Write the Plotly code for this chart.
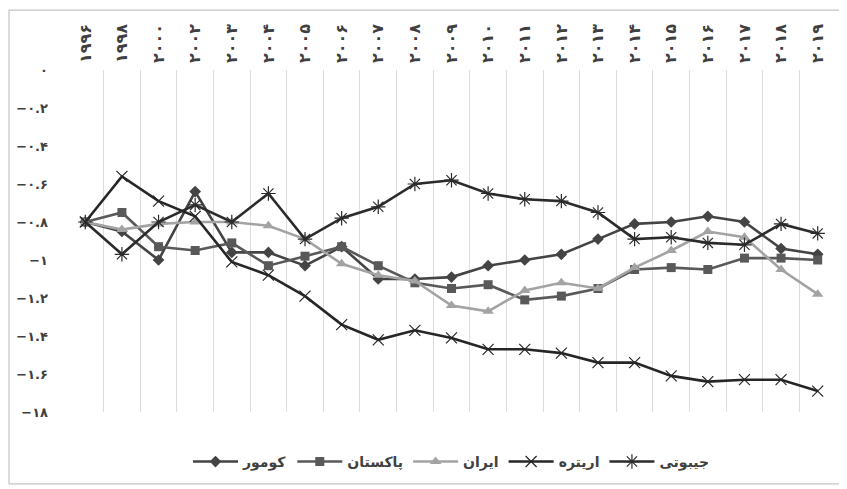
import plotly.graph_objects as go

years = ["۱۹۹۶", "۱۹۹۸", "۲۰۰۰", "۲۰۰۲", "۲۰۰۳", "۲۰۰۴", "۲۰۰۵", "۲۰۰۶", "۲۰۰۷", "۲۰۰۸",
         "۲۰۰۹", "۲۰۱۰", "۲۰۱۱", "۲۰۱۲", "۲۰۱۳", "۲۰۱۴", "۲۰۱۵", "۲۰۱۶", "۲۰۱۷", "۲۰۱۸", "۲۰۱۹"]

comoros = [-0.80, -0.85, -1.00, -0.64, -0.96, -0.96, -1.03, -0.93, -1.10, -1.10, -1.09,
           -1.03, -1.00, -0.97, -0.89, -0.81, -0.80, -0.77, -0.80, -0.94, -0.97]
pakistan = [-0.80, -0.75, -0.93, -0.95, -0.91, -1.03, -0.98, -0.93, -1.03, -1.12, -1.15,
            -1.13, -1.21, -1.19, -1.15, -1.05, -1.04, -1.05, -0.99, -0.99, -1.00]
iran = [-0.80, -0.84, -0.81, -0.80, -0.80, -0.82, -0.89, -1.02, -1.08, -1.11, -1.24,
        -1.27, -1.16, -1.12, -1.15, -1.04, -0.95, -0.85, -0.88, -1.05, -1.18]
eritrea = [-0.80, -0.56, -0.69, -0.77, -1.01, -1.08, -1.19, -1.34, -1.42, -1.37, -1.41,
           -1.47, -1.47, -1.49, -1.54, -1.54, -1.61, -1.64, -1.63, -1.63, -1.69]
djibouti = [-0.80, -0.97, -0.80, -0.71, -0.80, -0.65, -0.89, -0.78, -0.72, -0.60, -0.58,
            -0.65, -0.68, -0.69, -0.75, -0.89, -0.88, -0.91, -0.92, -0.81, -0.86]

series_names = ["کومور", "پاکستان", "ایران", "اریتره", "جیبوتی"]

y_tickvals = [0, -0.2, -0.4, -0.6, -0.8, -1.0, -1.2, -1.4, -1.6, -1.8]
y_ticktext = ["۰", "−۰.۲", "−۰.۴", "−۰.۶", "−۰.۸", "−۱", "−۱.۲", "−۱.۴", "−۱.۶", "−۱۸"]

x = list(range(len(years)))

styles = [
    dict(color="#444444", symbol="diamond", size=9, lw=0),
    dict(color="#595959", symbol="square", size=9, lw=0),
    dict(color="#a3a3a3", symbol="triangle-up", size=10, lw=0),
    dict(color="#262626", symbol="x-thin-open", size=11, lw=1.2),
    dict(color="#2b2b2b", symbol="asterisk-open", size=12, lw=1.2),
]
data = [comoros, pakistan, iran, eritrea, djibouti]

fig = go.Figure()
for name, vals, st in zip(series_names, data, styles):
    fig.add_trace(go.Scatter(
        x=x, y=vals, name=name, mode="lines+markers",
        line=dict(color=st["color"], width=2.6),
        marker=dict(symbol=st["symbol"], size=st["size"], color=st["color"],
                    line=dict(color=st["color"], width=st["lw"])),
    ))

fig.update_layout(
    width=839, height=481,
    margin=dict(l=59, r=11, t=62, b=77, autoexpand=False),
    paper_bgcolor="white", plot_bgcolor="white",
    font=dict(family="DejaVu Sans", color="#404040", size=12),
    showlegend=True,
    legend=dict(orientation="h", x=0.5, xanchor="center", y=-0.146, yanchor="middle",
                font=dict(size=14, color="#404040", weight="bold"), itemwidth=45,
                traceorder="normal"),
    xaxis=dict(
        side="top", range=[-0.5, len(years) - 0.5], automargin=False,
        tickmode="array", tickvals=x, ticktext=years, tickangle=-90,
        showgrid=False, zeroline=False, showline=False, ticks="",
        tickfont=dict(size=16, color="#404040", weight="bold"),
        ticklabelstandoff=6,
        minor=dict(tickmode="array", tickvals=[i - 0.5 for i in range(len(years) + 1)],
                   showgrid=True, gridcolor="#dcdcdc", gridwidth=1, ticks=""),
    ),
    yaxis=dict(
        range=[-1.8, 0], automargin=False,
        tickmode="array", tickvals=y_tickvals, ticktext=y_ticktext,
        showgrid=False, zeroline=False, showline=False, ticks="",
        tickfont=dict(size=13, color="#404040", weight="bold"),
        ticklabelstandoff=18,
    ),
    shapes=[dict(type="rect", xref="paper", yref="paper",
                 x0=-0.0754, x1=1.008, y0=-0.21, y1=1.175,
                 line=dict(color="#c4c4c4", width=1.2), fillcolor="rgba(0,0,0,0)", layer="above")],
)

fig.write_html("out.html")
